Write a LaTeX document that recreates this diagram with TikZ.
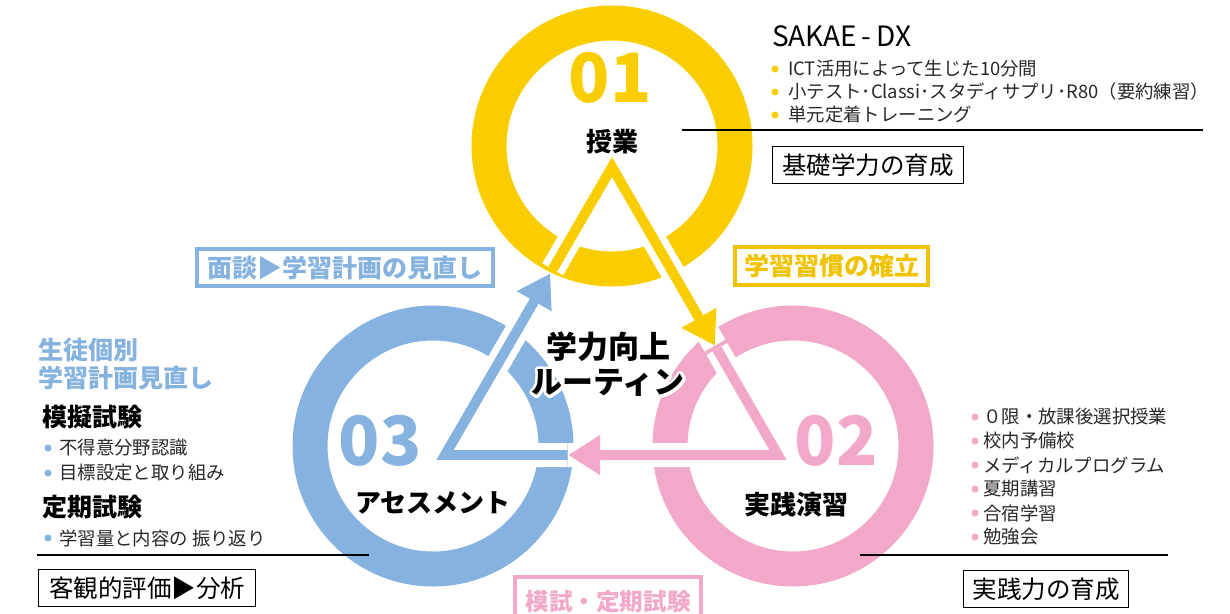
\documentclass[tikz,border=0pt]{standalone}
\usepackage{fontspec}
\setmainfont{Noto Sans CJK JP}
\usetikzlibrary{calc,arrows.meta}
\definecolor{kiiro}{RGB}{250,205,0}
\definecolor{kiirobox}{RGB}{241,194,0}
\definecolor{ao}{RGB}{134,178,223}
\definecolor{momo}{RGB}{242,168,200}
\definecolor{sumi}{RGB}{40,40,40}
\newcommand{\fs}[1]{\fontsize{#1}{#1}\selectfont}
\newcommand{\halo}[1]{\special{pdf:literal direct q 1 Tr 6 w 1 j}#1\special{pdf:literal direct Q}}

\begin{document}
\begin{tikzpicture}[x=1pt,y=-1pt,
  ring/.style={line width=35pt},
  gap/.style={white,line width=24pt},
  leg/.style={line width=10pt,-{Triangle[length=32pt,width=38pt]}},
  num/.style={inner sep=0,font=\fs{68}\bfseries},
  title/.style={inner sep=0,font=\fs{26}\bfseries},
  head/.style={inner sep=0,anchor=west,font=\fs{25}\bfseries},
  item/.style={inner sep=0,anchor=west,font=\fs{18.4},text=sumi},
  dot/.style={circle,inner sep=0,minimum size=7pt},
  tag/.style={draw,line width=4pt,inner sep=0,font=\fs{25}\bfseries},
  frame/.style={draw,line width=1.2pt,inner sep=0,font=\fs{24.5}},
  rule/.style={line width=1.2pt},
  motto/.style={inner sep=0,align=center,font=\fontsize{31}{35}\selectfont\bfseries}]
\useasboundingbox (0,0) rectangle (1230,613);

% rings
\coordinate (c1) at (612,146);
\coordinate (c2) at (793,446);
\coordinate (c3) at (433,446);
\draw[ring,kiiro] (c1) circle[radius=123pt];
\draw[ring,momo] (c2) circle[radius=123pt];
\draw[ring,ao] (c3) circle[radius=123pt];

% triangle of arrows
\coordinate (apex) at (612,167);
\coordinate (br) at (778,455);
\coordinate (bl) at (445,455);
\coordinate (ab1) at ($(apex)!0.62!(br)$);
\coordinate (ab2) at ($(apex)!0.632!(br)$);
\coordinate (bc1) at ($(br)!0.63!(bl)$);
\coordinate (bc2) at ($(br)!0.632!(bl)$);
\coordinate (ca1) at ($(bl)!0.63!(apex)$);
\coordinate (ca2) at ($(bl)!0.645!(apex)$);
\draw[gap] (ca2) -- (apex) -- (ab1);
\draw[gap] (ab2) -- (br) -- (bc1);
\draw[gap] (bc2) -- (bl) -- (ca1);
\draw[leg,kiiro] (ca2) -- (apex) -- (ab1);
\draw[leg,momo] (ab2) -- (br) -- (bc1);
\draw[leg,ao] (bc2) -- (bl) -- (ca1);

\node[num,kiiro] (n01) at (610,78) {01};
\node[title] (t01) at (612,142) {授業};
\node[num,momo] (n02) at (836,441) {02};
\node[title] (t02) at (796,505) {実践演習};
\node[num,ao] (n03) at (380,441) {03};
\node[title] (t03) at (433,503) {アセスメント};
\node[motto,text=white] (haloline) at (608,364) {\halo{学力向上}\\\halo{ルーティン}};
\node[motto] (routine) at (608,364) {学力向上\\ルーティン};

% top right
\node[inner sep=0,anchor=west,font=\fs{28}] (dx) at (772,36) {SAKAE\thinspace-\thinspace DX};
\foreach \t [count=\i] in {ICT活用によって生じた10分間,小テスト･Classi･スタディサプリ･R80（要約練習）,単元定着トレーニング} {
  \node[dot,fill=kiiro] (yd\i) at (775,{46+23*\i}) {};
  \node[item] (yi\i) at (788,{46+23*\i}) {\t};
}
\coordinate (r1a) at (682,130);
\coordinate (r1b) at (1203,130);
\draw[rule] (r1a) -- (r1b);
\node[frame,minimum width=191pt,minimum height=37pt] (kiso) at (868,165) {基礎学力の育成};

% tags
\node[tag,draw=ao,text=ao,minimum width=296pt,minimum height=37pt] (mendan) at (345,267.5) {面談▶学習計画の見直し};
\node[tag,draw=kiirobox,text=kiirobox,minimum width=193pt,minimum height=38pt] (shukan) at (831.5,266) {学習習慣の確立};
\node[tag,draw=momo,text=momo,minimum width=186pt,minimum height=50pt] (moshi) at (608,602) {\fs{23.6}模試・定期試験};

% left
\node[head,text=ao] (seito1) at (38,350) {生徒個別};
\node[head,text=ao] (seito2) at (38,378) {学習計画見直し};
\node[head] (mogi) at (42,417) {模擬試験};
\foreach \t [count=\i] in {不得意分野認識,目標設定と取り組み} {
  \node[dot,fill=ao] (bd\i) at (48,{423+25*\i}) {};
  \node[item] (bi\i) at (59,{423+25*\i}) {\t};
}
\node[head] (teiki) at (42,507) {定期試験};
\node[dot,fill=ao] (bd3) at (48,538) {};
\node[item] (bi3) at (59,538) {学習量と内容の 振り返り};
\coordinate (r3a) at (37,555);
\coordinate (r3b) at (369,555);
\draw[rule] (r3a) -- (r3b);
\node[frame,minimum width=217pt,minimum height=37pt] (kyakkan) at (147,588) {客観的評価▶分析};

% right bottom
\foreach \t [count=\i] in {０限・放課後選択授業,校内予備校,メディカルプログラム,夏期講習,合宿学習,勉強会} {
  \node[dot,fill=momo] (pd\i) at (975,{393+24*\i}) {};
  \node[item] (pi\i) at (983,{393+24*\i}) {\t};
}
\coordinate (r2a) at (860,555);
\coordinate (r2b) at (1168,555);
\draw[rule] (r2a) -- (r2b);
\node[frame,minimum width=165pt,minimum height=37pt] (jissen) at (1046,589) {実践力の育成};
\end{tikzpicture}
\end{document}
